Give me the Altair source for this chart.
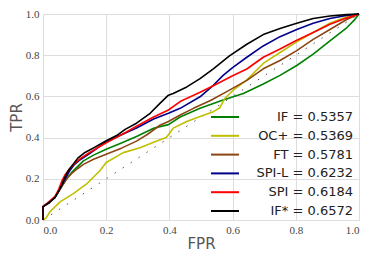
import altair as alt
import pandas as pd

series = ["IF", "OC+", "FT", "SPI-L", "SPI", "IF*"]
labels = ["IF = 0.5357", "OC+ = 0.5369", "FT = 0.5781", "SPI-L = 0.6232", "SPI = 0.6184", "IF* = 0.6572"]
colors = ["#008000", "#bfbf00", "#8b4513", "#00008b", "#ff0000", "#000000"]

if_fpr = [0, 0, 0.02, 0.038, 0.06, 0.075, 0.09, 0.11, 0.128, 0.16, 0.2, 0.25, 0.296, 0.35, 0.397,
          0.434, 0.497, 0.57, 0.634, 0.697, 0.75, 0.803, 0.855, 0.908, 0.961, 0.985, 1.0]
if_tpr = [0, 0.065, 0.085, 0.11, 0.165, 0.2, 0.23, 0.26, 0.287, 0.315, 0.343, 0.375, 0.405, 0.445, 0.463,
          0.5, 0.542, 0.582, 0.614, 0.66, 0.702, 0.75, 0.805, 0.869, 0.933, 0.97, 1.0]

oc_fpr = [0, 0.01, 0.022, 0.054, 0.096, 0.138, 0.18, 0.2, 0.254, 0.307, 0.36, 0.39, 0.40, 0.412,
          0.455, 0.497, 0.539, 0.56, 0.575, 0.602, 0.645, 0.697, 0.75, 0.803, 0.855, 0.908, 0.96, 1.0]
oc_tpr = [0, 0.01, 0.04, 0.088, 0.128, 0.175, 0.239, 0.279, 0.327, 0.351, 0.383, 0.40, 0.42, 0.446,
          0.478, 0.502, 0.526, 0.545, 0.59, 0.63, 0.68, 0.76, 0.813, 0.865, 0.91, 0.955, 0.985, 1.0]

ft_fpr = [0, 0, 0.02, 0.038, 0.06, 0.075, 0.09, 0.11, 0.128, 0.16, 0.2, 0.25, 0.296, 0.33, 0.37,
          0.397, 0.434, 0.476, 0.53, 0.58, 0.645, 0.697, 0.75, 0.803, 0.855, 0.908, 0.961, 1.0]
ft_tpr = [0, 0.065, 0.085, 0.11, 0.165, 0.2, 0.225, 0.25, 0.27, 0.295, 0.319, 0.35, 0.383, 0.415, 0.46,
          0.478, 0.51, 0.542, 0.58, 0.622, 0.678, 0.734, 0.774, 0.822, 0.877, 0.925, 0.973, 1.0]

spil_fpr = [0, 0, 0.02, 0.038, 0.06, 0.07, 0.085, 0.1, 0.12, 0.15, 0.2, 0.25, 0.296, 0.35, 0.397,
            0.434, 0.497, 0.539, 0.57, 0.6, 0.645, 0.697, 0.75, 0.803, 0.855, 0.908, 0.96, 1.0]
spil_tpr = [0, 0.065, 0.085, 0.11, 0.17, 0.2, 0.24, 0.27, 0.295, 0.325, 0.38, 0.415, 0.447, 0.49, 0.518,
            0.542, 0.598, 0.654, 0.702, 0.74, 0.79, 0.845, 0.89, 0.925, 0.955, 0.978, 0.993, 1.0]

spi_fpr = [0, 0, 0.02, 0.038, 0.05, 0.06, 0.07, 0.085, 0.1, 0.12, 0.15, 0.2, 0.25, 0.296, 0.35, 0.397,
           0.434, 0.497, 0.539, 0.6, 0.645, 0.697, 0.75, 0.8, 0.855, 0.908, 0.96, 1.0]
spi_tpr = [0, 0.065, 0.09, 0.115, 0.15, 0.19, 0.22, 0.25, 0.275, 0.3, 0.33, 0.375, 0.415, 0.455, 0.5, 0.534,
           0.575, 0.62, 0.652, 0.70, 0.733, 0.79, 0.83, 0.87, 0.91, 0.95, 0.98, 1.0]

ifs_fpr = [0, 0, 0.02, 0.038, 0.05, 0.06, 0.067, 0.08, 0.095, 0.11, 0.13, 0.16, 0.2, 0.233, 0.26, 0.296,
           0.339, 0.37, 0.397, 0.412, 0.455, 0.497, 0.539, 0.59, 0.645, 0.697, 0.75, 0.803, 0.855, 0.908,
           0.96, 1.0]
ifs_tpr = [0, 0.065, 0.085, 0.11, 0.14, 0.17, 0.2, 0.24, 0.27, 0.3, 0.325, 0.35, 0.385, 0.41, 0.44, 0.47,
           0.518, 0.566, 0.606, 0.614, 0.646, 0.686, 0.734, 0.797, 0.853, 0.90, 0.93, 0.955, 0.978, 0.99,
           0.997, 1.0]

diag = [0.0, 1.0]
ticks = [0.0, 0.2, 0.4, 0.6, 0.8, 1.0]

curves = {
    "IF": (if_fpr, if_tpr),
    "OC+": (oc_fpr, oc_tpr),
    "FT": (ft_fpr, ft_tpr),
    "SPI-L": (spil_fpr, spil_tpr),
    "SPI": (spi_fpr, spi_tpr),
    "IF*": (ifs_fpr, ifs_tpr),
}

color_scale = alt.Scale(domain=series, range=colors)

xax = alt.Axis(values=ticks, format=".1f", title="FPR", titlePadding=1)
yax = alt.Axis(values=ticks, format=".1f", title="TPR", titlePadding=1)

diag_df = pd.DataFrame({"fpr": diag, "tpr": diag})
base_diag = alt.Chart(diag_df).mark_line(
    color="#555555", strokeWidth=1, strokeDash=[1.5, 8]
).encode(
    x=alt.X("fpr:Q", scale=alt.Scale(domain=[0, 1], nice=False), axis=xax),
    y=alt.Y("tpr:Q", scale=alt.Scale(domain=[0, 1], nice=False), axis=yax),
)

layers = [base_diag]
for s in series:
    fx, fy = curves[s]
    df = pd.DataFrame({"fpr": fx, "tpr": fy, "series": s, "idx": list(range(len(fx)))})
    layers.append(
        alt.Chart(df).mark_line(strokeWidth=1.6, strokeJoin="round").encode(
            x=alt.X("fpr:Q"),
            y=alt.Y("tpr:Q"),
            color=alt.Color("series:N", scale=color_scale, legend=None),
            order=alt.Order("idx:Q"),
        )
    )

leg_df = pd.DataFrame({"series": series, "label": labels})
leg_y = alt.Y("label:N", sort=labels,
              scale=alt.Scale(type="point", range=[103, 197], padding=0), axis=None)
leg_rule = alt.Chart(leg_df).mark_rule(strokeWidth=2).encode(
    x=alt.value(168), x2=alt.value(196), y=leg_y,
    color=alt.Color("series:N", scale=color_scale, legend=None),
)
leg_text = alt.Chart(leg_df).mark_text(
    align="right", baseline="middle", font="DejaVu Sans", fontSize=13, color="#222222"
).encode(x=alt.value(310), y=leg_y, text="label:N")

main = alt.layer(*layers)
legend = alt.layer(leg_rule, leg_text)

chart = alt.layer(main, legend).resolve_scale(y="independent").properties(
    width=316, height=206,
    autosize=alt.AutoSizeParams(type="none"),
    padding={"left": 35, "top": 6, "right": 7, "bottom": 32},
).configure_view(
    stroke="#cccccc", strokeWidth=1
).configure_axis(
    labelFont="Liberation Serif", labelFontSize=11, labelColor="#444444",
    grid=True, gridColor="#dddddd", gridWidth=1,
    domain=False, ticks=False, labelPadding=4,
    titleFont="DejaVu Sans", titleFontSize=15, titleFontWeight="normal", titleColor="#555555",
)

chart.save("out.html", embed_options={"renderer": "svg", "actions": False})
